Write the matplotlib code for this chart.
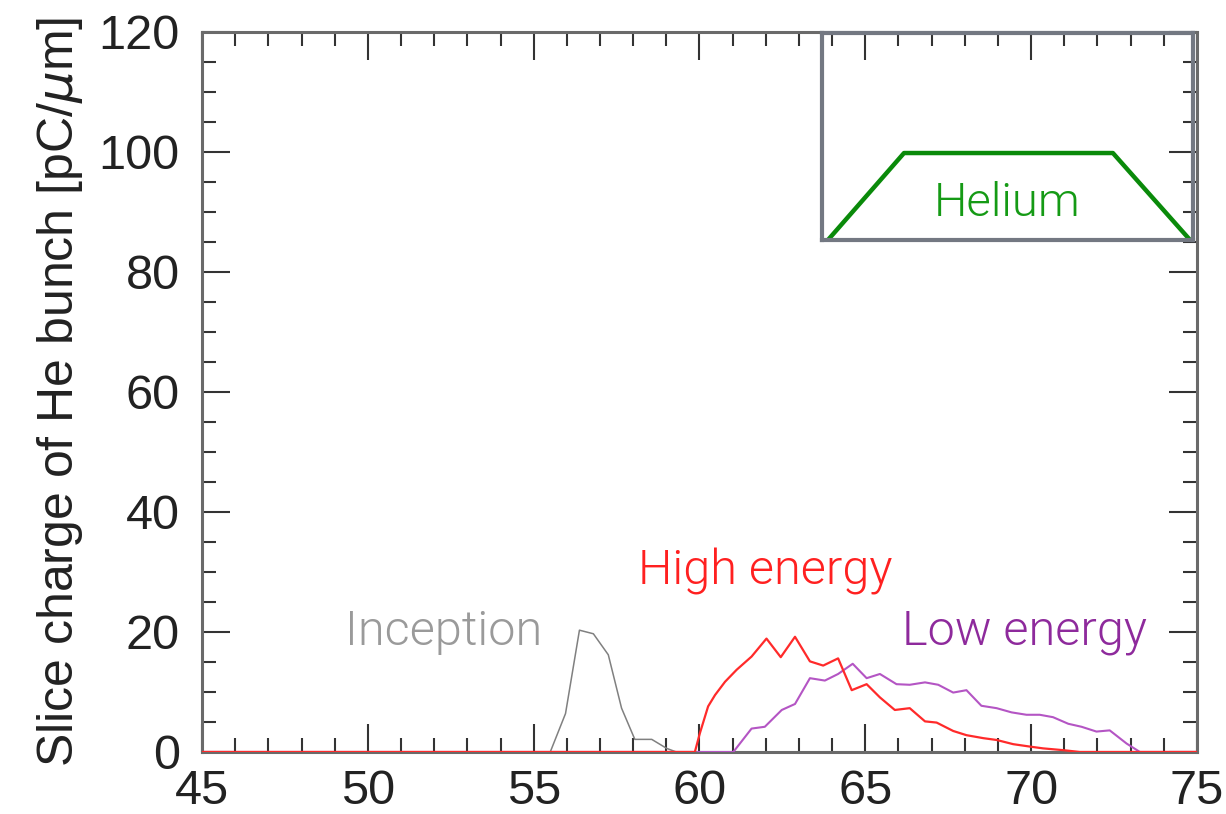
import matplotlib
matplotlib.use("Agg")
import matplotlib.pyplot as plt
from matplotlib.ticker import MultipleLocator

plt.rcParams['font.family'] = ['Liberation Sans', 'DejaVu Sans']

# Slice charge profiles of the He bunch (position in um, charge in pC/um)
inception_x = [45.0, 55.5, 55.96, 56.38, 56.8, 57.25, 57.65, 58.05, 58.56, 59.01, 59.3, 59.9]
inception_y = [0.0, 0.0, 6.4, 20.3, 19.7, 16.2, 7.3, 2.1, 2.1, 0.6, 0.0, 0.0]

high_x = [45.0, 59.86, 60.01, 60.26, 60.47, 60.77, 61.12, 61.57, 62.02, 62.45, 62.88,
          63.33, 63.73, 64.18, 64.59, 65.04, 65.44, 65.89, 66.34, 66.8, 67.15, 67.65,
          68.05, 68.56, 68.96, 69.46, 69.96, 70.36, 70.97, 71.47, 75.0]
high_y = [0.0, 0.0, 3.1, 7.6, 9.5, 11.7, 13.7, 15.9, 18.9, 15.8, 19.2,
          15.1, 14.4, 15.6, 10.3, 11.3, 9.1, 7.0, 7.3, 5.1, 4.9, 3.5,
          2.8, 2.3, 2.0, 1.3, 0.9, 0.6, 0.3, 0.0, 0.0]

low_x = [45.0, 61.02, 61.57, 61.97, 62.48, 62.88, 63.33, 63.78, 64.18, 64.62, 65.04,
         65.44, 65.94, 66.34, 66.8, 67.2, 67.65, 68.05, 68.5, 68.96, 69.41, 69.86,
         70.26, 70.66, 71.12, 71.52, 71.97, 72.37, 72.88, 73.28, 75.0]
low_y = [0.0, 0.0, 3.9, 4.2, 7.0, 8.0, 12.3, 11.9, 13.0, 14.7, 12.3,
         13.0, 11.3, 11.2, 11.6, 11.2, 9.9, 10.3, 7.7, 7.3, 6.6, 6.2,
         6.2, 5.8, 4.7, 4.2, 3.4, 3.6, 1.4, 0.0, 0.0]

# Schematic helium density profile for the inset
helium_x = [0.016, 0.221, 0.784, 0.992]
helium_y = [0.0, 0.42, 0.42, 0.0]

x_ticks = [45, 50, 55, 60, 65, 70, 75]
y_ticks = [0, 20, 40, 60, 80, 100, 120]

label_font = ['Roboto', 'Liberation Sans', 'DejaVu Sans']

fig = plt.figure(figsize=(12.26, 8.14), dpi=100)
ax = fig.add_axes([0.1648, 0.0762, 0.8115, 0.8845])

ax.plot(low_x, low_y, color='#b455c4', lw=1.5, zorder=3)
ax.plot(inception_x, inception_y, color='#808080', lw=1.1, zorder=4)
ax.plot(high_x, high_y, color='#ff2a2a', lw=1.6, zorder=5)

ax.set_xlim(45, 75)
ax.set_ylim(0, 120)
ax.set_xticks(x_ticks)
ax.set_yticks(y_ticks)
ax.xaxis.set_minor_locator(MultipleLocator(1))
ax.yaxis.set_minor_locator(MultipleLocator(5))
ax.tick_params(which='both', direction='in', top=True, right=True,
               color='#333333', width=1.5)
ax.tick_params(which='major', length=20, labelsize=35, labelcolor='#222222')
ax.tick_params(axis='x', which='major', pad=12)
ax.tick_params(axis='y', which='major', pad=16)
ax.tick_params(which='minor', length=10)
for s in ax.spines.values():
    s.set_color('#6a6a6a')
    s.set_linewidth(2.2)

ax.set_ylabel('Slice charge of He bunch [pC/$\\mu$m]', fontsize=36, color='#222222', labelpad=10)

ax.text(52.27, 20, 'Inception', color='#9a9a9a', fontsize=35, ha='center', va='center',
        family=label_font, fontweight=300)
ax.text(61.97, 30, 'High energy', color='#ff2020', fontsize=35, ha='center', va='center',
        family=label_font, fontweight=300)
ax.text(69.8, 20, 'Low energy', color='#8e2a9c', fontsize=35, ha='center', va='center',
        family=label_font, fontweight=300)

# Inset schematic of the helium profile
ins = fig.add_axes([0.6705, 0.7052, 0.3026, 0.2543])
ins.patch.set_alpha(0)
ins.plot(helium_x, helium_y, color='#0a8a0a', lw=3.2, solid_capstyle='butt')
ins.set_xlim(0, 1)
ins.set_ylim(0, 1)
ins.set_xticks([])
ins.set_yticks([])
for s in ins.spines.values():
    s.set_color('#737882')
    s.set_linewidth(3)
ins.text(0.5, 0.18, 'Helium', color='#159a15', fontsize=34, ha='center', va='center',
         transform=ins.transAxes, family=label_font, fontweight=300)

fig.savefig('out.png', dpi=100)
